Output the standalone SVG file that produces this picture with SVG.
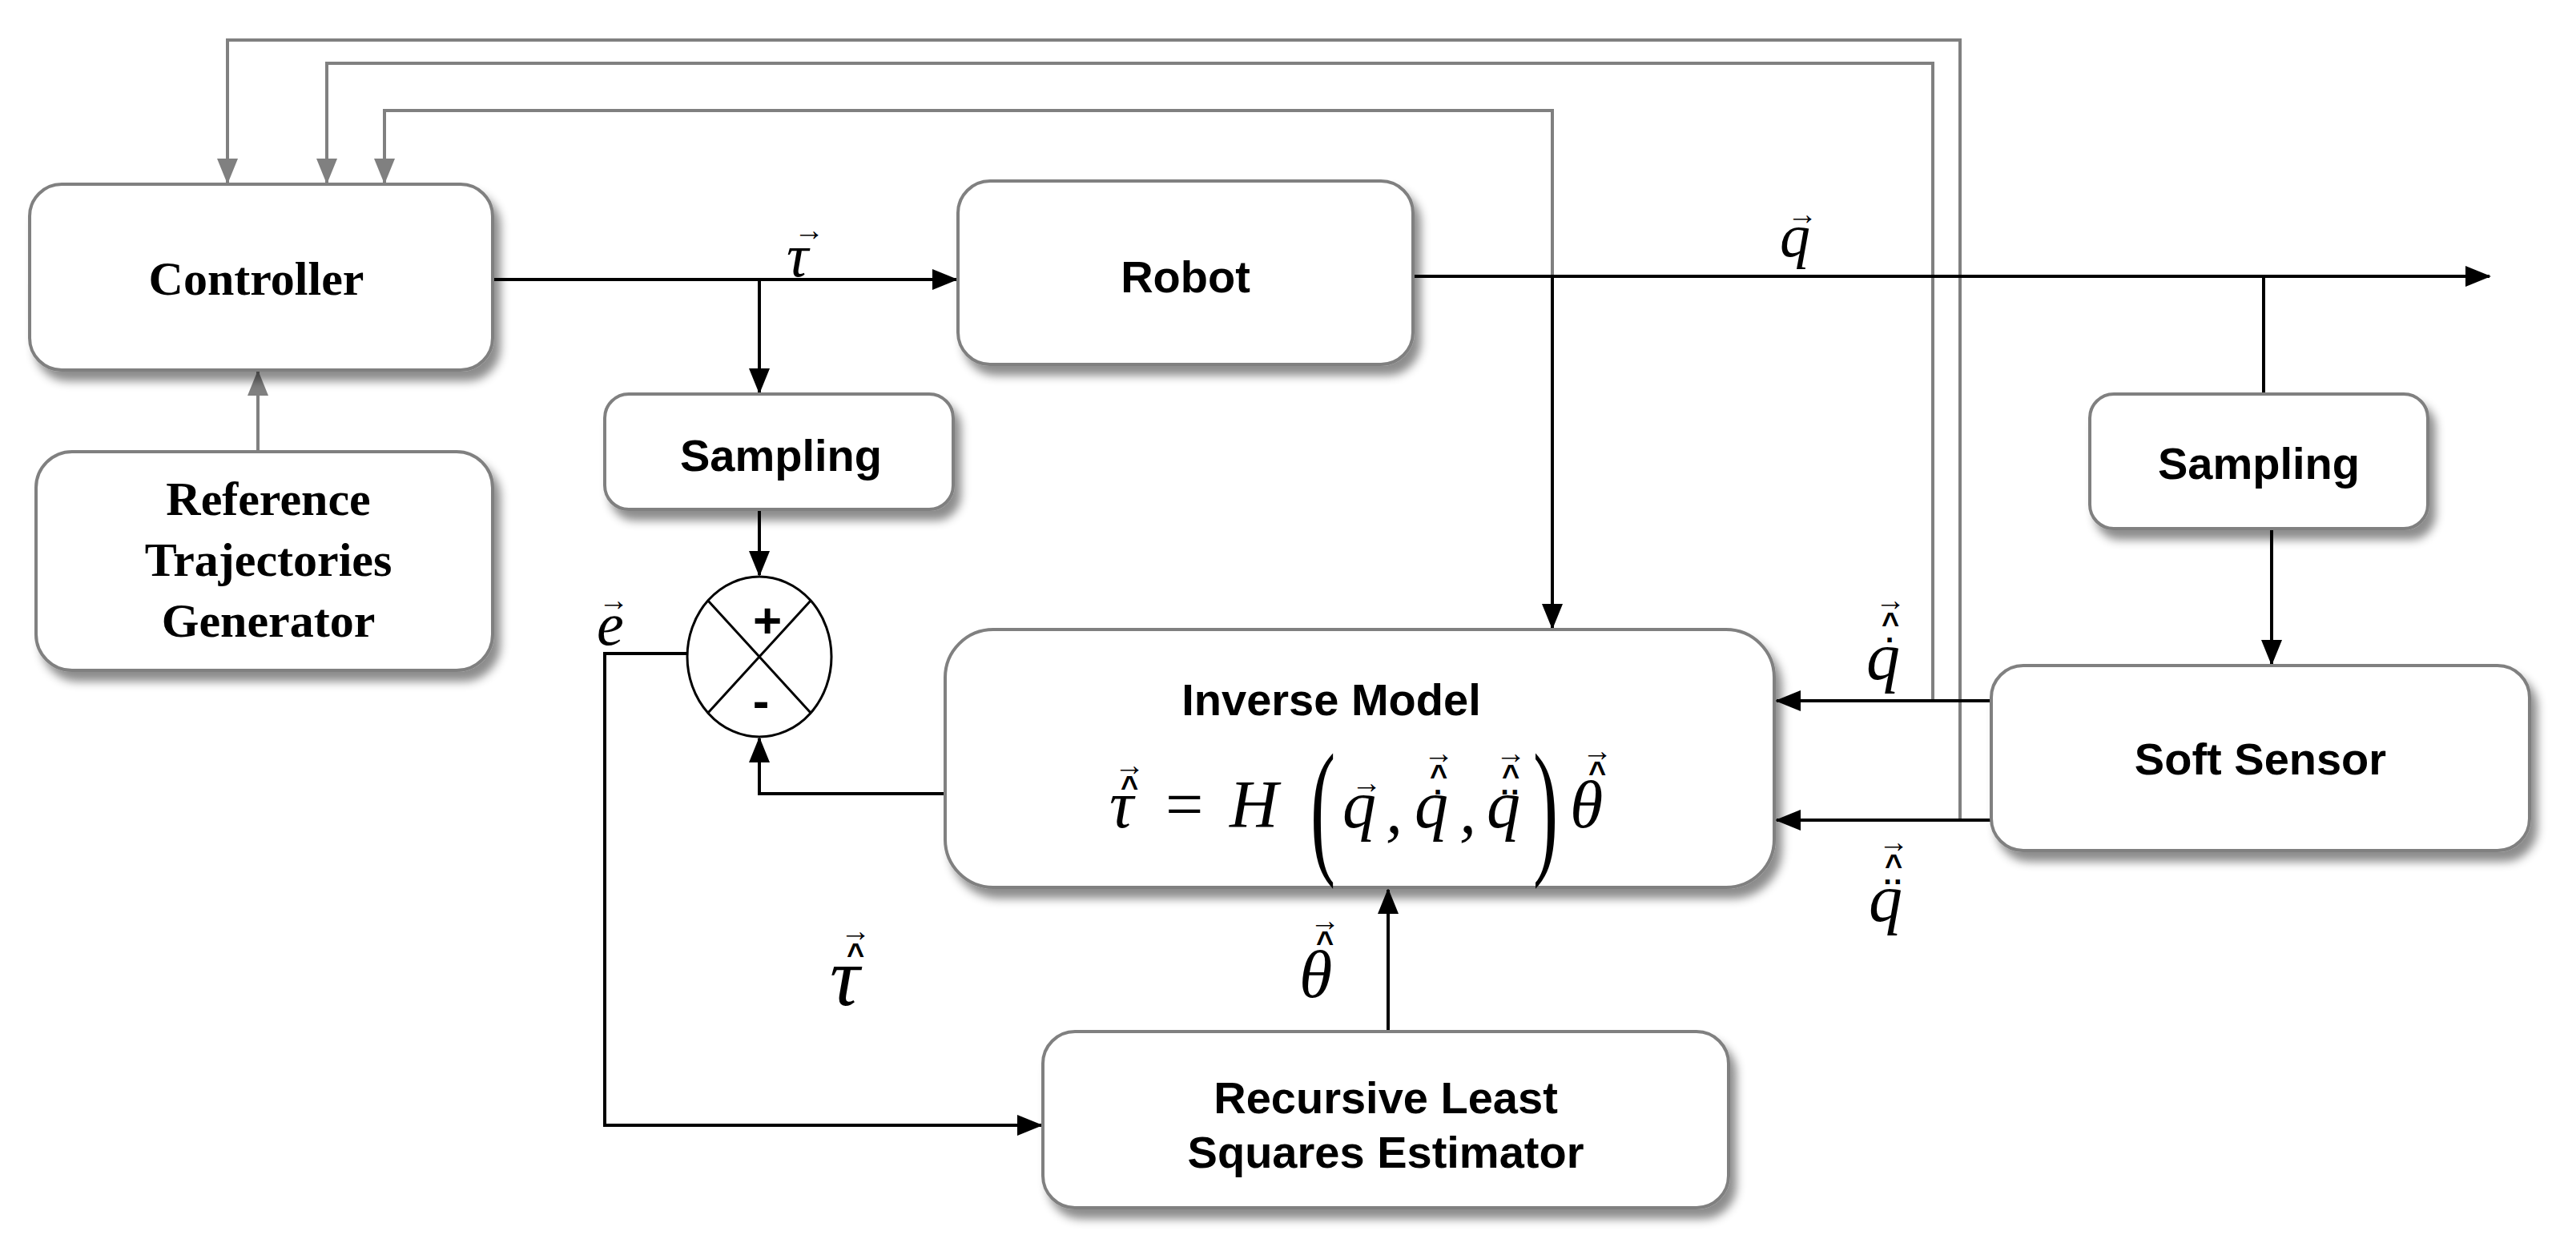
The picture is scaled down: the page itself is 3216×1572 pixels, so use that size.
<svg xmlns="http://www.w3.org/2000/svg" width="3216" height="1572" viewBox="0 0 3216 1572">
<style>
.box{fill:#fff;stroke:#808080;stroke-width:4;filter:url(#sh)}
.ser{font-family:"Liberation Serif",serif;font-weight:bold;font-size:60px;text-anchor:middle}
.sans{font-family:"Liberation Sans",sans-serif;font-weight:bold;font-size:56px;text-anchor:middle}
.m{font-family:"Liberation Serif",serif;font-style:italic;font-size:84px}
.acc{font-family:"Liberation Sans",sans-serif;font-size:38px;font-weight:bold;text-anchor:middle}
.blk{fill:none;stroke:#000;stroke-width:4}
.gry{fill:none;stroke:#808080;stroke-width:4}
</style>
<defs>
<filter id="sh" x="-10%" y="-10%" width="130%" height="140%"><feDropShadow dx="8" dy="12" stdDeviation="6" flood-color="#000" flood-opacity="0.45"/></filter>
<marker id="ab" markerUnits="userSpaceOnUse" markerWidth="32" markerHeight="26" refX="30" refY="13" orient="auto"><path d="M0,0 L32,13 L0,26 Z" fill="#000"/></marker>
<marker id="ag" markerUnits="userSpaceOnUse" markerWidth="32" markerHeight="26" refX="30" refY="13" orient="auto"><path d="M0,0 L32,13 L0,26 Z" fill="#808080"/></marker>
</defs>
<rect width="3216" height="1572" fill="#fff"/>
<g id="connectors">
<path class="gry" d="M2447,1024 V50 H284 V228" marker-end="url(#ag)"/>
<path class="gry" d="M2413,875 V79 H408 V228" marker-end="url(#ag)"/>
<path class="gry" d="M1938,345 V138 H480 V228" marker-end="url(#ag)"/>
<path class="gry" d="M322,564 V464" marker-end="url(#ag)"/>
<path class="blk" d="M615,349 H1194" marker-end="url(#ab)"/>
<path class="blk" d="M948,349 V490" marker-end="url(#ab)"/>
<path class="blk" d="M1764,345 H3108" marker-end="url(#ab)"/>
<path class="blk" d="M1938,345 V784" marker-end="url(#ab)"/>
<path class="blk" d="M2826,345 V492"/>
<path class="blk" d="M2836,660 V829" marker-end="url(#ab)"/>
<path class="blk" d="M948,636 V718" marker-end="url(#ab)"/>
<path class="blk" d="M858,816 H755 V1405 H1300" marker-end="url(#ab)"/>
<path class="blk" d="M1180,991 H948 V922" marker-end="url(#ab)"/>
<path class="blk" d="M1733,1288 V1111" marker-end="url(#ab)"/>
<path class="blk" d="M2486,875 H2218" marker-end="url(#ab)"/>
<path class="blk" d="M2486,1024 H2218" marker-end="url(#ab)"/>
</g>
<g id="controller"><rect class="box" x="37" y="230" width="578" height="232" rx="40"/><text class="ser" x="320" y="368">Controller</text></g>
<g id="reftraj"><rect class="box" x="45" y="564" width="570" height="273" rx="45"/><text class="ser" x="335" y="643">Reference</text><text class="ser" x="335" y="719">Trajectories</text><text class="ser" x="335" y="795">Generator</text></g>
<g id="robot"><rect class="box" x="1196" y="226" width="568" height="229" rx="40"/><text class="sans" x="1480" y="365">Robot</text></g>
<g id="sampling1"><rect class="box" x="755" y="492" width="435" height="144" rx="30"/><text class="sans" x="975" y="588">Sampling</text></g>
<g id="sum"><ellipse cx="948" cy="820" rx="90" ry="100" fill="#fff" stroke="#000" stroke-width="3"/>
<path d="M884,750 L1012,890 M1012,750 L884,890" stroke="#000" stroke-width="3"/>
<text class="sans" x="958" y="796" style="font-size:62px">+</text><text class="sans" x="950" y="896" style="font-size:62px">-</text></g>
<g id="inverse"><rect class="box" x="1180" y="786" width="1035" height="322" rx="60"/>
<text class="sans" x="1662" y="893">Inverse Model</text>
<text class="m" x="1385" y="1033">τ</text><text class="acc" x="1410" y="996">^</text><text class="acc" x="1410" y="968">→</text>
<text class="m" x="1455" y="1033" style="font-style:normal">=</text>
<text class="m" x="1535" y="1033">H</text>
<text class="m" x="1636" y="1070" style="font-size:170px;font-style:normal" transform="translate(1636,1070) scale(0.55,1.1) translate(-1636,-1070)">(</text>
<text class="m" x="1676" y="1033">q</text><text class="acc" x="1706" y="990">→</text>
<text class="m" x="1730" y="1040">,</text>
<text class="m" x="1766" y="1033">q</text><text class="acc" x="1796" y="1002">·</text><text class="acc" x="1796" y="982">^</text><text class="acc" x="1796" y="953">→</text>
<text class="m" x="1822" y="1040">,</text>
<text class="m" x="1856" y="1033">q</text><text class="acc" x="1886" y="1002">··</text><text class="acc" x="1886" y="982">^</text><text class="acc" x="1886" y="953">→</text>
<text class="m" x="1914" y="1070" style="font-size:170px;font-style:normal" transform="translate(1914,1070) scale(0.55,1.1) translate(-1914,-1070)">)</text>
<text class="m" x="1960" y="1033">θ</text><text class="acc" x="1994" y="978">^</text><text class="acc" x="1994" y="950">→</text>
</g>
<g id="sampling2"><rect class="box" x="2609" y="492" width="422" height="168" rx="30"/><text class="sans" x="2820" y="598">Sampling</text></g>
<g id="softsensor"><rect class="box" x="2486" y="831" width="672" height="231" rx="40"/><text class="sans" x="2822" y="967">Soft Sensor</text></g>
<g id="rls"><rect class="box" x="1302" y="1288" width="856" height="220" rx="40"/><text class="sans" x="1730" y="1390">Recursive Least</text><text class="sans" x="1730" y="1458">Squares Estimator</text></g>
<g id="labels">
<text class="m" x="982" y="345" style="font-size:76px">τ</text><text class="acc" x="1010" y="300">→</text>
<text class="m" x="2222" y="320" style="font-size:76px">q</text><text class="acc" x="2250" y="280">→</text>
<text class="m" x="745" y="805" style="font-size:76px">e</text><text class="acc" x="766" y="762">→</text>
<text class="m" x="1036" y="1255" style="font-size:104px">τ</text><text class="acc" x="1068" y="1205">^</text><text class="acc" x="1068" y="1175">→</text>
<text class="m" x="1622" y="1245">θ</text><text class="acc" x="1654" y="1190">^</text><text class="acc" x="1654" y="1162">→</text>
<text class="m" x="2330" y="848">q</text><text class="acc" x="2360" y="812">·</text><text class="acc" x="2360" y="792">^</text><text class="acc" x="2360" y="762">→</text>
<text class="m" x="2333" y="1150">q</text><text class="acc" x="2364" y="1114">··</text><text class="acc" x="2364" y="1094">^</text><text class="acc" x="2364" y="1064">→</text>
</g>
</svg>
